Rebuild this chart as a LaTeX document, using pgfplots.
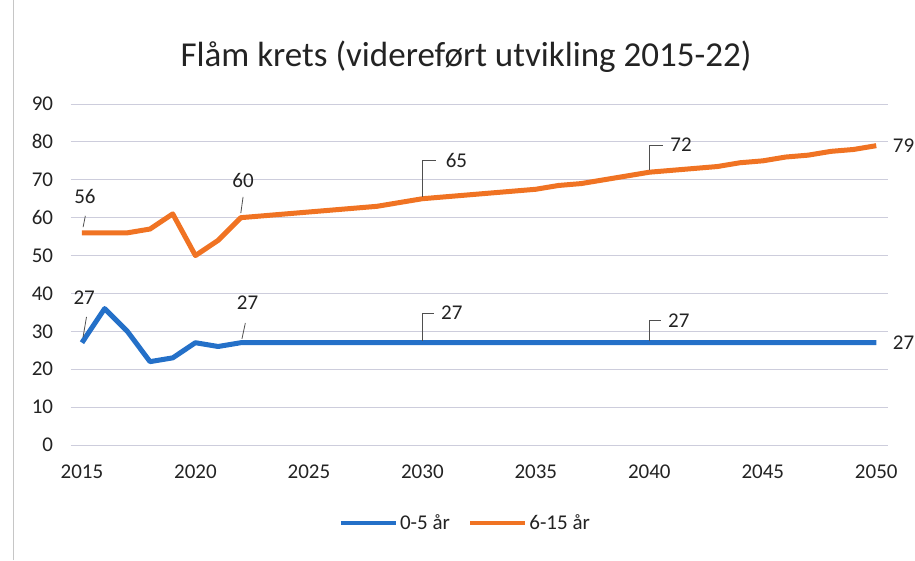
\documentclass[border=0pt]{standalone}
\usepackage{pgfplots}
\pgfplotsset{compat=1.18}
\usepackage{fontspec}
\setmainfont{Carlito}
\definecolor{serblue}{RGB}{36,112,200}
\definecolor{serorange}{RGB}{240,115,35}
\definecolor{txt}{RGB}{35,35,35}
\definecolor{gridc}{RGB}{205,205,220}
\begin{document}
\begin{tikzpicture}[x=1pt,y=1pt]
\path[use as bounding box] (0,0) rectangle (915,560);
\draw[gray!45, line width=0.8pt] (13,0) -- (13,560);
\node[font=\fontsize{35}{40}\selectfont, text=txt] at (466,503) {Flåm krets (videreført utvikling 2015-22)};
\begin{axis}[
  at={(70.6pt,115pt)}, anchor=south west,
  width=817pt, height=341pt, scale only axis,
  xmin=2014.5, xmax=2050.5, ymin=0, ymax=90,
  clip=false,
  axis line style={draw=none},
  tick style={draw=none},
  ymajorgrids, grid style={gridc, line width=0.9pt},
  xtick={2015,2020,...,2050},
  ytick={0,10,...,90},
  /pgf/number format/assume math mode=true,
  /pgf/number format/1000 sep={},
  tick label style={font=\fontsize{21}{25}\selectfont, text=txt},
  x tick label style={yshift=-16pt},
  y tick label style={xshift=-14pt},
  legend style={at={(axis description cs:0.483,-0.229)}, anchor=center, draw=none,
    font=\fontsize{21}{25}\selectfont, text=txt, legend columns=2,
    /tikz/every even column/.append style={column sep=16pt}},
  legend image code/.code={\draw[#1, line width=4.5pt] (0pt,0pt) -- (55pt,0pt);},
]
\addplot[serblue, line width=5pt, line join=round] coordinates {
(2015,27) (2016,36) (2017,30) (2018,22) (2019,23) (2020,27) (2021,26) (2022,27)
(2023,27) (2024,27) (2025,27) (2026,27) (2027,27) (2028,27) (2029,27) (2030,27)
(2031,27) (2032,27) (2033,27) (2034,27) (2035,27) (2036,27) (2037,27) (2038,27)
(2039,27) (2040,27) (2041,27) (2042,27) (2043,27) (2044,27) (2045,27) (2046,27)
(2047,27) (2048,27) (2049,27) (2050,27)};
\addlegendentry{0-5 år}
\addplot[serorange, line width=5pt, line join=round] coordinates {
(2015,56) (2016,56) (2017,56) (2018,57) (2019,61) (2020,50) (2021,54) (2022,60)
(2023,60.5) (2024,61) (2025,61.5) (2026,62) (2027,62.5) (2028,63) (2029,64) (2030,65)
(2031,65.5) (2032,66) (2033,66.5) (2034,67) (2035,67.5) (2036,68.5) (2037,69) (2038,70)
(2039,71) (2040,72) (2041,72.5) (2042,73) (2043,73.5) (2044,74.5) (2045,75) (2046,76)
(2047,76.5) (2048,77.5) (2049,78) (2050,79)};
\addlegendentry{6-15 år}
% data labels with leader lines
\tikzset{dl/.style={font=\fontsize{21}{25}\selectfont, text=txt}, ld/.style={draw=txt!80, line width=0.8pt}}
\draw[ld] (axis cs:2015.05,57.5) -- (axis cs:2015.15,60.5);
\node[dl] at (axis cs:2015.13,65.5) {56};
\draw[ld] (axis cs:2015.05,28.5) -- (axis cs:2015.2,33.8);
\node[dl] at (axis cs:2015.1,38.8) {27};
\draw[ld] (axis cs:2022.0,61.2) -- (axis cs:2022.1,65.5);
\node[dl] at (axis cs:2022.1,69.9) {60};
\draw[ld] (axis cs:2022.05,28) -- (axis cs:2022.2,32.2);
\node[dl] at (axis cs:2022.3,37.5) {27};
\draw[ld] (axis cs:2030,65.5) -- (axis cs:2030,75) -- (axis cs:2030.6,75);
\node[dl] at (axis cs:2031.5,75.2) {65};
\draw[ld] (axis cs:2030,27.5) -- (axis cs:2030,34.8) -- (axis cs:2030.5,34.8);
\node[dl] at (axis cs:2031.3,34.8) {27};
\draw[ld] (axis cs:2040,72.5) -- (axis cs:2040,79) -- (axis cs:2040.6,79);
\node[dl] at (axis cs:2041.4,79.2) {72};
\draw[ld] (axis cs:2040,27.5) -- (axis cs:2040,32.8) -- (axis cs:2040.5,32.8);
\node[dl] at (axis cs:2041.3,32.8) {27};
\node[dl] at (axis cs:2051.2,79) {79};
\node[dl] at (axis cs:2051.2,27) {27};
\end{axis}
\end{tikzpicture}
\end{document}
